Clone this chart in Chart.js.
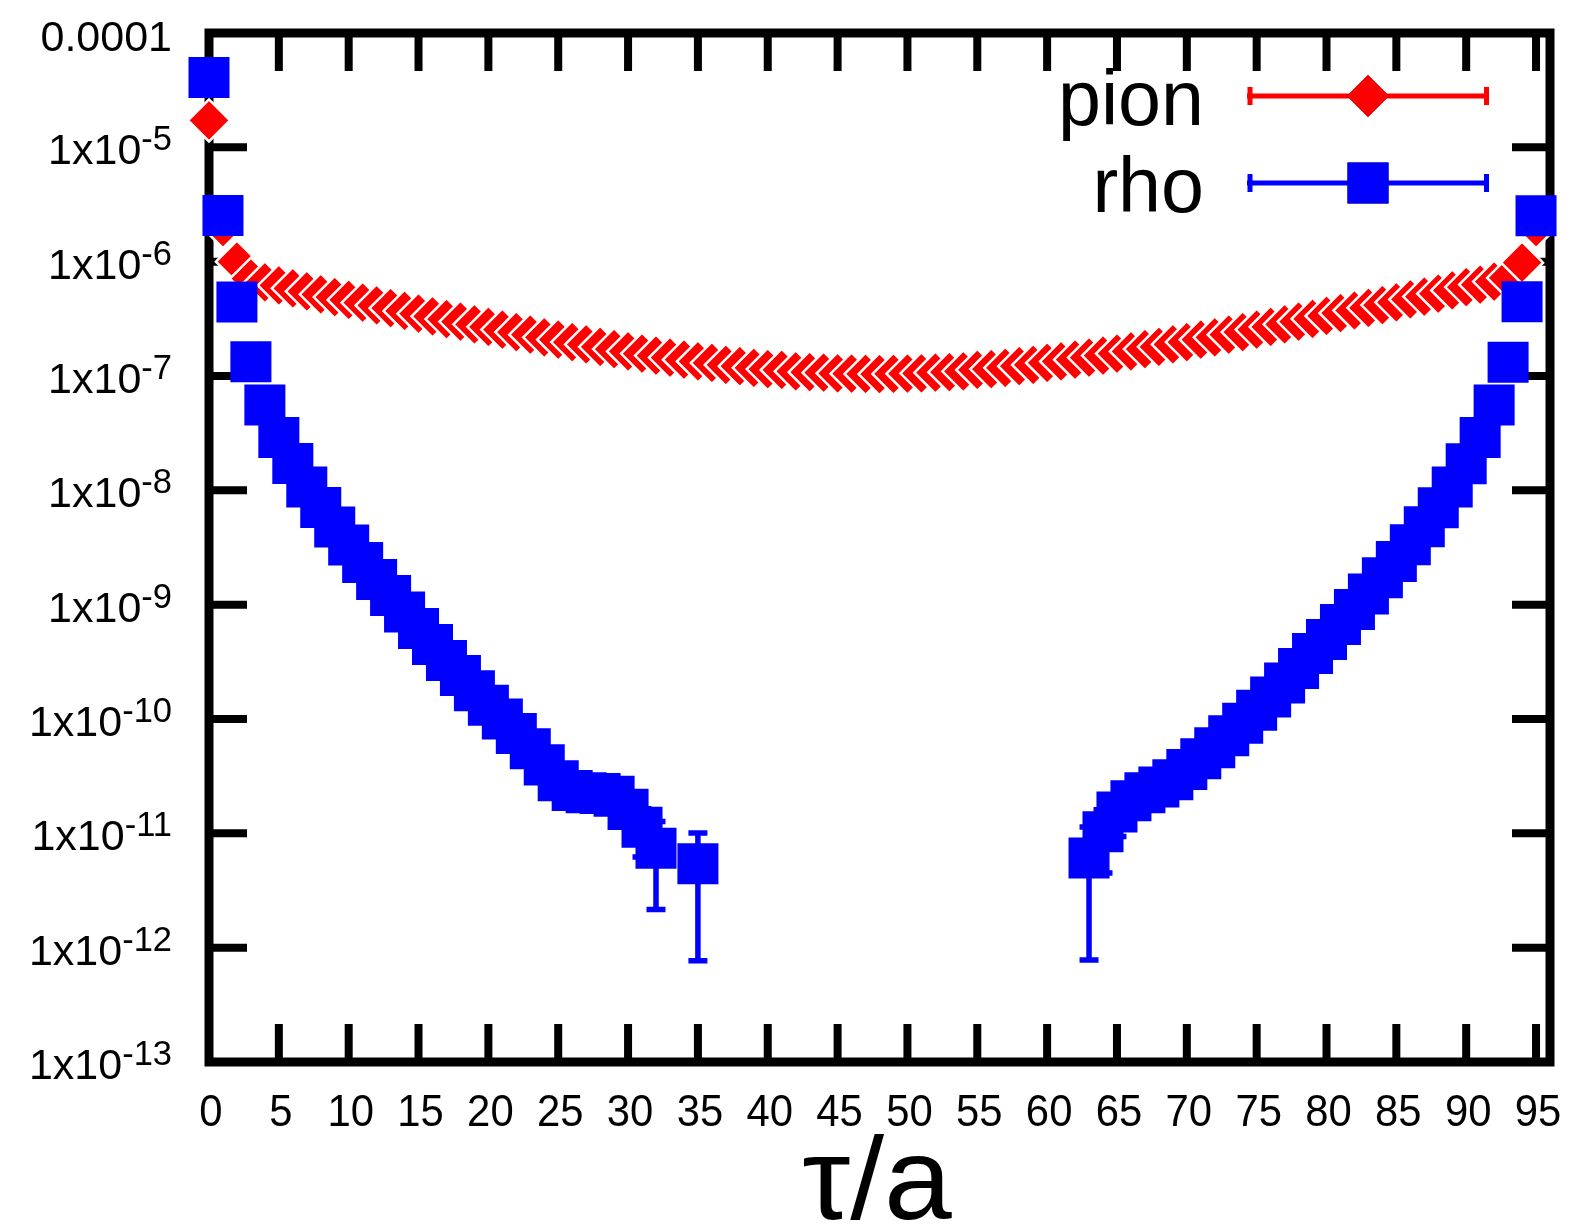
<!DOCTYPE html>
<html>
<head>
<meta charset="utf-8">
<script src="https://cdn.jsdelivr.net/npm/chart.js@4.4.1/dist/chart.umd.min.js"></script>
<style>
  html, body { margin: 0; padding: 0; background: #ffffff; }
  #wrap { width: 1579px; height: 1230px; }
  canvas { display: block; }
</style>
</head>
<body>
<div id="wrap"><canvas id="c" width="1579" height="1230"></canvas></div>
<script>
// ---------------- data ----------------
const tau = [0,1,2,3,4,5,6,7,8,9,10,11,12,13,14,15,16,17,18,19,20,21,22,23,24,25,26,27,28,29,30,31,32,33,34,35,36,37,38,39,40,41,42,43,44,45,46,47,48,49,50,51,52,53,54,55,56,57,58,59,60,61,62,63,64,65,66,67,68,69,70,71,72,73,74,75,76,77,78,79,80,81,82,83,84,85,86,87,88,89,90,91,92,93,94,95];

const pionValues = [
  1.72e-5, 2.0e-6, 1.0e-6, 7.1e-7, 6.6e-7, 6.2e-7, 5.85e-7, 5.5e-7, 5.18e-7, 4.9e-7,
  4.63e-7, 4.38e-7, 4.14e-7, 3.92e-7, 3.71e-7, 3.51e-7, 3.33e-7, 3.15e-7, 2.99e-7, 2.83e-7,
  2.69e-7, 2.55e-7, 2.42e-7, 2.30e-7, 2.18e-7, 2.08e-7, 1.98e-7, 1.89e-7, 1.80e-7, 1.72e-7,
  1.64e-7, 1.57e-7, 1.51e-7, 1.45e-7, 1.39e-7, 1.34e-7, 1.30e-7, 1.25e-7, 1.22e-7, 1.18e-7,
  1.15e-7, 1.13e-7, 1.10e-7, 1.08e-7, 1.07e-7, 1.055e-7, 1.047e-7, 1.042e-7, 1.04e-7, 1.042e-7,
  1.047e-7, 1.055e-7, 1.07e-7, 1.08e-7, 1.10e-7, 1.13e-7, 1.15e-7, 1.18e-7, 1.22e-7, 1.25e-7,
  1.30e-7, 1.34e-7, 1.39e-7, 1.45e-7, 1.51e-7, 1.57e-7, 1.64e-7, 1.72e-7, 1.80e-7, 1.89e-7,
  1.98e-7, 2.08e-7, 2.18e-7, 2.30e-7, 2.42e-7, 2.55e-7, 2.69e-7, 2.83e-7, 2.99e-7, 3.16e-7,
  3.35e-7, 3.54e-7, 3.74e-7, 3.95e-7, 4.17e-7, 4.41e-7, 4.67e-7, 4.95e-7, 5.25e-7, 5.6e-7,
  6.0e-7, 6.3e-7, 6.7e-7, 7.2e-7, 9.8e-7, 2.0e-6
];

const rhoValues = [
  4.08e-5, 2.53e-6, 4.44e-7, 1.33e-7, 5.57e-8, 2.90e-8, 1.72e-8, 1.07e-8, 7.08e-9, 4.78e-9,
  3.33e-9, 2.34e-9, 1.66e-9, 1.20e-9, 8.63e-10, 6.19e-10, 4.48e-10, 3.25e-10, 2.40e-10, 1.77e-10,
  1.32e-10, 1.00e-10, 7.46e-11, 5.48e-11, 3.97e-11, 2.88e-11, 2.37e-11, 2.26e-11, 2.23e-11, 2.11e-11,
  1.62e-11, 1.13e-11, 7.41e-12, null, null, 5.42e-12, null, null, null, null,
  null, null, null, null, null, null, null, null, null, null,
  null, null, null, null, null, null, null, null, null, null,
  null, null, null, 6.08e-12, 1.03e-11, 1.54e-11, 1.93e-11, 2.26e-11, 2.54e-11, 2.94e-11,
  3.61e-11, 4.50e-11, 5.61e-11, 7.13e-11, 9.16e-11, 1.19e-10, 1.56e-10, 2.06e-10, 2.77e-10, 3.74e-10,
  4.96e-10, 6.70e-10, 9.07e-10, 1.24e-9, 1.72e-9, 2.38e-9, 3.34e-9, 4.80e-9, 7.05e-9, 1.07e-8,
  1.71e-8, 2.90e-8, 5.57e-8, 1.32e-7, 4.46e-7, 2.52e-6
];

// symmetric error bars (only the visible ones are non-zero)
const rhoErrors = [
  0,0,0,0,0,0,0,0,0,0,
  0,0,0,0,0,0,0,0,0,0,
  0,0,0,0,0,0,0,0,0,0,
  0, 5.1e-12, 5.25e-12, 0, 0, 4.65e-12, 0,0,0,0,
  0,0,0,0,0,0,0,0,0,0,
  0,0,0,0,0,0,0,0,0,0,
  0,0,0, 5.3e-12, 5.8e-12, 6.0e-12, 0,0,0,0,
  0,0,0,0,0,0,0,0,0,0,
  0,0,0,0,0,0,0,0,0,0,
  0,0,0,0,0,0
];

const seriesNames = ['pion', 'rho'];
const seriesColors = ['#ff0000', '#0000ff'];

const xTickValues = [0,5,10,15,20,25,30,35,40,45,50,55,60,65,70,75,80,85,90,95];
const yTickValues = [1e-4,1e-5,1e-6,1e-7,1e-8,1e-9,1e-10,1e-11,1e-12,1e-13];
const yTickLabels = ['0.0001','1x10^-5','1x10^-6','1x10^-7','1x10^-8','1x10^-9','1x10^-10','1x10^-11','1x10^-12','1x10^-13'];
const xTitle = 'τ/a';

// ---------------- drawing helpers ----------------
const FONT = '"Liberation Sans", Arial, Helvetica, sans-serif';

function measure(ctx, s, size, sx) {
  ctx.save();
  ctx.font = size + 'px ' + FONT;
  const w = ctx.measureText(s).width * sx;
  ctx.restore();
  return w;
}
function txt(ctx, s, x, y, size, align, sx) {
  ctx.save();
  ctx.font = size + 'px ' + FONT;
  ctx.textBaseline = 'alphabetic';
  const w = ctx.measureText(s).width * sx;
  let x0 = x;
  if (align === 'right') x0 = x - w;
  else if (align === 'center') x0 = x - w / 2;
  ctx.translate(x0, y);
  ctx.scale(sx, 1);
  ctx.textAlign = 'left';
  ctx.fillText(s, 0, 0);
  ctx.restore();
  return w;
}

const framePlugin = {
  id: 'frame',
  beforeDatasetsDraw(chart) {
    const ctx = chart.ctx;
    const {left, right, top, bottom} = chart.chartArea;
    const xs = chart.scales.x, ys = chart.scales.y;
    ctx.save();
    ctx.strokeStyle = '#000';
    ctx.lineCap = 'butt';
    ctx.lineWidth = 8;
    const tl = 38;
    xTickValues.forEach(v => {
      const x = xs.getPixelForValue(v);
      ctx.beginPath();
      ctx.moveTo(x, bottom); ctx.lineTo(x, bottom - tl);
      ctx.moveTo(x, top); ctx.lineTo(x, top + tl);
      ctx.stroke();
    });
    yTickValues.forEach(v => {
      const y = ys.getPixelForValue(v);
      ctx.beginPath();
      ctx.moveTo(left, y); ctx.lineTo(left + tl, y);
      ctx.moveTo(right, y); ctx.lineTo(right - tl, y);
      ctx.stroke();
    });
    ctx.lineWidth = 9;
    ctx.lineJoin = 'miter';
    ctx.strokeRect(left, top, right - left, bottom - top);
    ctx.restore();
  },
  afterDatasetsDraw(chart) {
    const ctx = chart.ctx;
    const xs = chart.scales.x, ys = chart.scales.y;
    ctx.save();
    chart.data.datasets.forEach(ds => {
      ctx.strokeStyle = ds.backgroundColor;
      ctx.lineWidth = 5.5;
      ds.data.forEach(p => {
        if (p.y == null || !p.e) return;
        const x = xs.getPixelForValue(p.x);
        const yHi = ys.getPixelForValue(p.y + p.e);
        const yLo = ys.getPixelForValue(Math.max(p.y - p.e, 1e-20));
        ctx.beginPath();
        ctx.moveTo(x, yHi); ctx.lineTo(x, yLo);
        ctx.moveTo(x - 9.5, yHi); ctx.lineTo(x + 9.5, yHi);
        ctx.moveTo(x - 9.5, yLo); ctx.lineTo(x + 9.5, yLo);
        ctx.stroke();
      });
    });
    ctx.restore();
  },
  afterDraw(chart) {
    const ctx = chart.ctx;
    const xs = chart.scales.x, ys = chart.scales.y;
    const {bottom} = chart.chartArea;
    ctx.save();
    ctx.fillStyle = '#000';
    // x tick labels
    xTickValues.forEach(v => {
      txt(ctx, String(v), xs.getPixelForValue(v) + 2, bottom + 64, 45, 'center', 0.93);
    });
    // y tick labels (base + superscript exponent), right-justified
    const R = 172, BASE = 43, SUP = 34.5;
    yTickLabels.forEach((lab, i) => {
      const y = ys.getPixelForValue(yTickValues[i]) + 17;
      const parts = lab.split('^');
      if (parts.length === 1) {
        txt(ctx, parts[0], R, y + 1, BASE, 'right', 1.0);
      } else {
        const supW = measure(ctx, parts[1], SUP, 1.0);
        txt(ctx, parts[1], R, y - 14, SUP, 'right', 1.0);
        txt(ctx, parts[0], R - supW, y, BASE, 'right', 1.0);
      }
    });
    // x axis title
    txt(ctx, xTitle, 877, 1219, 116, 'center', 1.05);

    // legend
    const legendY = [96, 183];
    chart.data.datasets.forEach((ds, i) => {
      const y = legendY[i];
      ctx.fillStyle = '#000';
      txt(ctx, seriesNames[i], 1204, y + 29, 78, 'right', 0.99);
      ctx.strokeStyle = seriesColors[i];
      ctx.lineWidth = 5;
      ctx.beginPath();
      ctx.moveTo(1247, y); ctx.lineTo(1489, y);
      ctx.moveTo(1250, y - 9); ctx.lineTo(1250, y + 9);
      ctx.moveTo(1486.5, y - 9); ctx.lineTo(1486.5, y + 9);
      ctx.stroke();
      Chart.helpers.drawPoint(ctx, {
        pointStyle: ds.pointStyle, radius: ds.pointRadius, rotation: 0, borderWidth: 0
      }, 1368, y);
      ctx.fillStyle = seriesColors[i];
      ctx.fill();
    });
    ctx.restore();
  }
};

function points(values, errors) {
  const out = [];
  tau.forEach((t, i) => {
    if (values[i] == null) return;
    out.push({x: t, y: values[i], e: errors ? errors[i] : 0});
  });
  return out;
}

new Chart(document.getElementById('c'), {
  type: 'scatter',
  data: {
    datasets: [
      {
        label: seriesNames[0],
        data: points(pionValues, null),
        pointStyle: 'rectRot',
        pointRadius: 21,
        backgroundColor: seriesColors[0],
        borderColor: '#ffffff',
        borderWidth: 2.5,
        clip: false,
        order: 2
      },
      {
        label: seriesNames[1],
        data: points(rhoValues, rhoErrors),
        pointStyle: 'rect',
        pointRadius: 29,
        backgroundColor: seriesColors[1],
        borderColor: seriesColors[1],
        borderWidth: 0,
        clip: false,
        order: 1
      }
    ]
  },
  options: {
    responsive: false,
    animation: false,
    devicePixelRatio: 1,
    events: [],
    layout: { padding: { left: 209, top: 33, right: 22, bottom: 168 } },
    plugins: { legend: { display: false }, tooltip: { enabled: false } },
    scales: {
      x: { type: 'linear', min: 0, max: 96, display: false },
      y: { type: 'logarithmic', min: 1e-13, max: 1e-4, display: false }
    }
  },
  plugins: [framePlugin]
});
</script>
</body>
</html>
